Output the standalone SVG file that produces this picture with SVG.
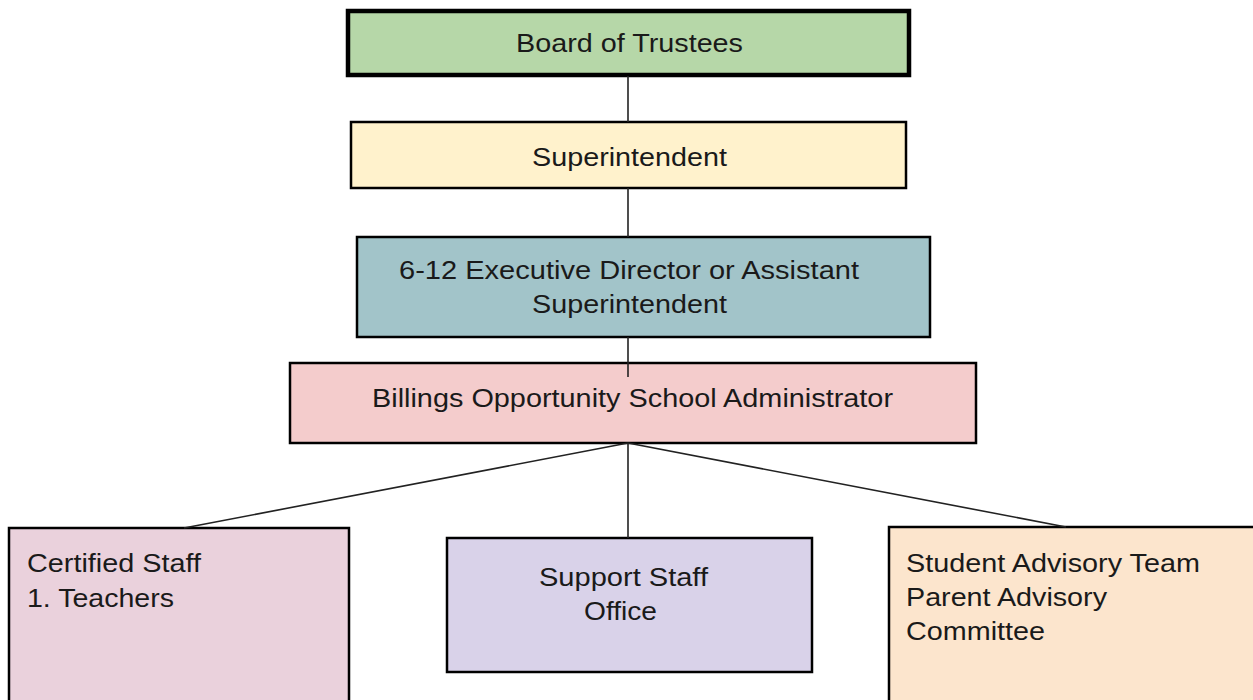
<svg xmlns="http://www.w3.org/2000/svg" width="1253" height="700" viewBox="0 0 1253 700">
  <style>
    .box { stroke: #000; stroke-width: 2.5; }
    .box.thick { stroke-width: 4.5; }
    .lbl { font-family: "Liberation Sans", Arial, sans-serif; font-size: 25px; fill: #1a1a1a; }
    .mid { text-anchor: middle; }
    .link { stroke: #222; stroke-width: 1.6; fill: none; }
  </style>
  <rect width="1253" height="700" fill="#fff"/>

  <g id="node-board">
    <rect class="box thick" x="348" y="11" width="561" height="64" fill="#b6d7a8"/>
    <text class="lbl mid" x="629.5" y="52" textLength="227" lengthAdjust="spacingAndGlyphs">Board of Trustees</text>
  </g>

  <g id="node-superintendent">
    <rect class="box" x="351" y="122" width="555" height="66" fill="#fff2cc"/>
    <text class="lbl mid" x="629.5" y="166" textLength="195" lengthAdjust="spacingAndGlyphs">Superintendent</text>
  </g>

  <g id="node-director">
    <rect class="box" x="357" y="237" width="573" height="100" fill="#a2c4c9"/>
    <text class="lbl mid" x="629" y="279" textLength="460" lengthAdjust="spacingAndGlyphs">6-12 Executive Director or Assistant</text>
    <text class="lbl mid" x="629.5" y="313" textLength="195" lengthAdjust="spacingAndGlyphs">Superintendent</text>
  </g>

  <g id="node-administrator">
    <rect class="box" x="290" y="363" width="686" height="80" fill="#f4cccc"/>
    <text class="lbl mid" x="632.5" y="407" textLength="521" lengthAdjust="spacingAndGlyphs">Billings Opportunity School Administrator</text>
  </g>

  <g id="node-certified">
    <rect class="box" x="9" y="528" width="340" height="180" fill="#ead1dc"/>
    <text class="lbl" x="27" y="572" textLength="174" lengthAdjust="spacingAndGlyphs">Certified Staff</text>
    <text class="lbl" x="27" y="607" textLength="147" lengthAdjust="spacingAndGlyphs">1. Teachers</text>
  </g>

  <g id="node-support">
    <rect class="box" x="447" y="538" width="365" height="134" fill="#d9d2e9"/>
    <text class="lbl mid" x="623.5" y="586" textLength="169" lengthAdjust="spacingAndGlyphs">Support Staff</text>
    <text class="lbl mid" x="620.5" y="620" textLength="73" lengthAdjust="spacingAndGlyphs">Office</text>
  </g>

  <g id="node-advisory">
    <rect class="box" x="889" y="527" width="370" height="180" fill="#fce5cd"/>
    <text class="lbl" x="906" y="572" textLength="294" lengthAdjust="spacingAndGlyphs">Student Advisory Team</text>
    <text class="lbl" x="906" y="606" textLength="201" lengthAdjust="spacingAndGlyphs">Parent Advisory</text>
    <text class="lbl" x="906" y="640" textLength="139" lengthAdjust="spacingAndGlyphs">Committee</text>
  </g>

  <g id="connectors">
    <line class="link" x1="628" y1="76" x2="628" y2="122"/>
    <line class="link" x1="628" y1="188" x2="628" y2="237"/>
    <line class="link" x1="628" y1="337" x2="628" y2="377"/>
    <line class="link" x1="628" y1="443" x2="628" y2="538"/>
    <line class="link" x1="628" y1="443" x2="184" y2="528"/>
    <line class="link" x1="628" y1="443" x2="1066" y2="527"/>
  </g>
</svg>
